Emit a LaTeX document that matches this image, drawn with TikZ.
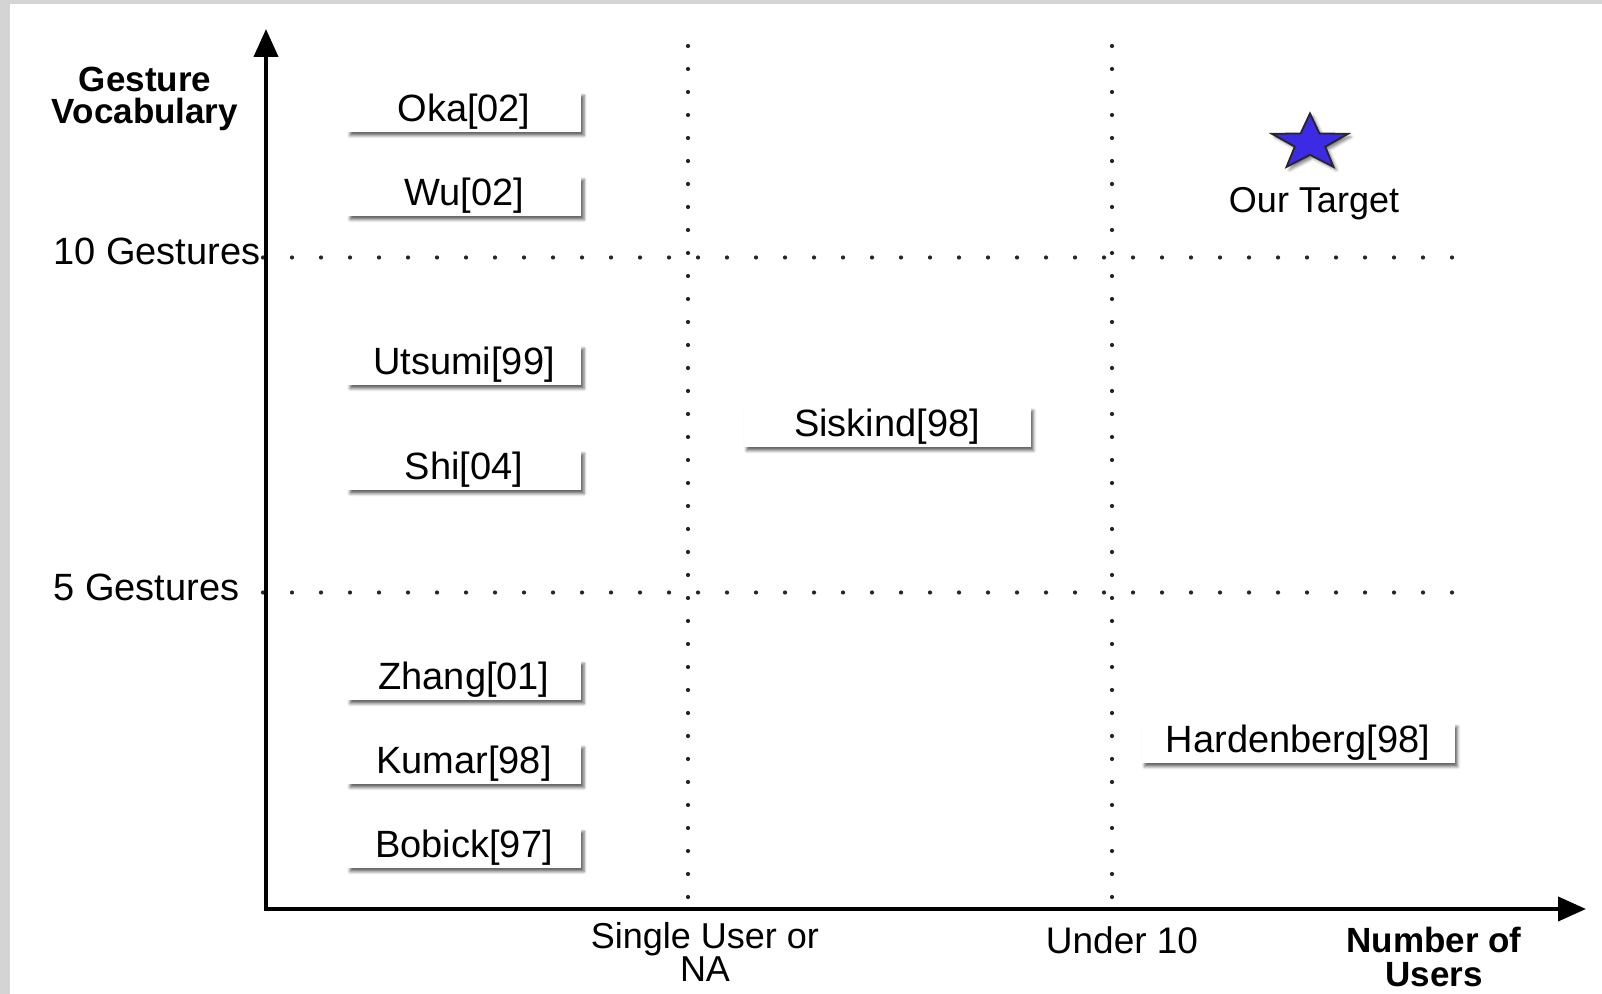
\documentclass[tikz,border=0pt]{standalone}
\usepackage{fontspec}
\setmainfont{Liberation Sans}
\usetikzlibrary{arrows.meta,shapes.geometric,shadows,shadows.blur}
\definecolor{framegray}{RGB}{212,212,212}
\definecolor{starblue}{RGB}{60,42,228}
\tikzset{
  work/.style={fill=white,minimum width=117pt,minimum height=20pt,inner sep=0pt,
    font=\fontsize{19}{22}\selectfont,
    blur shadow={shadow xshift=1.5pt,shadow yshift=-1.8pt,shadow blur radius=1.4pt,shadow opacity=60}},
  ticklabel/.style={font=\fontsize{19}{22}\selectfont,inner sep=0pt},
  userlabel/.style={font=\fontsize{18}{16.5}\selectfont,align=center,inner sep=0pt},
  axislabel/.style={font=\bfseries\fontsize{17.5}{16}\selectfont,align=center,inner sep=0pt},
  hdots/.style={line width=2.1pt,line cap=round,dash pattern=on 0pt off 14.5pt,black!85},
  vdots/.style={line width=2.1pt,line cap=round,dash pattern=on 0pt off 11.5pt,black!85},
  axis/.style={line width=2pt,{Triangle[width=12pt,length=14pt]}-{Triangle[width=12pt,length=14pt]}}
}
\begin{document}
\begin{tikzpicture}[x=0.5pt,y=-0.5pt]
    \useasboundingbox(0,0)rectangle(1602,994);
    \fill[framegray](0,0)rectangle(10,994);
    \fill[framegray](0,0)rectangle(1602,4);

    \coordinate(origin)at(266,909);
    \coordinate(ytip)at(266,29);
    \coordinate(xtip)at(1586,909);
    \coordinate(ten-a)at(263,257.5);
    \coordinate(ten-b)at(1453,257.5);
    \coordinate(five-a)at(263,592.5);
    \coordinate(five-b)at(1453,592.5);
    \coordinate(single-a)at(688,46);
    \coordinate(single-b)at(688,899);
    \coordinate(under-a)at(1112,46);
    \coordinate(under-b)at(1112,899);

    \draw[hdots](ten-a)--(ten-b);
    \draw[hdots](five-a)--(five-b);
    \draw[vdots](single-a)--(single-b);
    \draw[vdots](under-a)--(under-b);
    \draw[axis](ytip)--(origin)--(xtip);

    \node[axislabel](vocab)at(145,99){Gesture\\Vocabulary};
    \node[ticklabel,anchor=west](ten)at(53,251){10 Gestures};
    \node[ticklabel,anchor=west](five)at(53,587.5){5 Gestures};
    \node[userlabel](single)at(705,952){Single User or\\NA};
    \node[userlabel,font=\fontsize{18.5}{16.5}\selectfont](under)at(1122,940){Under 10};
    \node[axislabel,font=\bfseries\fontsize{17.5}{17}\selectfont](users)at(1434,957){Number of\\Users};

    \node[work](oka)at(464,112){Oka[02]};
    \node[work](wu)at(464,196){Wu[02]};
    \node[work](utsumi)at(464,365){Utsumi[99]};
    \node[work](shi)at(464,470){Shi[04]};
    \node[work](zhang)at(464,680){Zhang[01]};
    \node[work](kumar)at(464,764){Kumar[98]};
    \node[work](bobick)at(464,848){Bobick[97]};
    \node[work,minimum width=143.5pt](siskind)at(887,427){Siskind[98]};
    \node[work,minimum width=156.5pt](hardenberg)at(1298,743){Hardenberg[98]};

    \begin{scope}[shift={(1310,143)}]
      \node[star,star points=5,star point ratio=2.5,minimum size=40pt,inner sep=0pt,
        fill=starblue,draw=black!85,line width=0.9pt,yscale=0.74,transform shape,
        blur shadow={shadow xshift=1.5pt,shadow yshift=-1.5pt,shadow blur radius=1.5pt,shadow opacity=50}](target)at(0,0){};
    \end{scope}
    \node[ticklabel,font=\fontsize{18}{22}\selectfont](targetlabel)at(1314,204){Our Target};
  \end{tikzpicture}
\end{document}
